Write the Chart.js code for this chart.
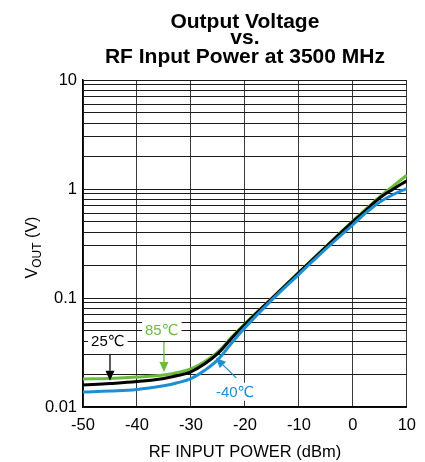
<!DOCTYPE html>
<html>
<head>
<meta charset="utf-8">
<script src="https://cdn.jsdelivr.net/npm/chart.js@4/dist/chart.umd.min.js"></script>
<style>
  html, body { margin: 0; padding: 0; background: #fff; }
  #wrap { width: 425px; height: 462px; }
</style>
</head>
<body>
<div id="wrap"><canvas id="c" width="425" height="462"></canvas></div>
<script>
// RF input power sweep (dBm) and detector output voltage (V) per temperature
const powerDbm     = [-50, -45, -40, -35, -32.5, -30, -27.5, -25, -22.5, -20, -15, -10, -5, 0, 2.5, 5, 7.5, 10];
const vout25C      = [0.0159, 0.0164, 0.0171, 0.0183, 0.0194, 0.0210, 0.0248, 0.0310, 0.0425, 0.0571, 0.099, 0.171, 0.293, 0.501, 0.645, 0.83, 1.00, 1.19];
const vout85C      = [0.0181, 0.0183, 0.0188, 0.0197, 0.0207, 0.0224, 0.0260, 0.0320, 0.0435, 0.0580, 0.100, 0.172, 0.297, 0.510, 0.660, 0.85, 1.07, 1.34];
const voutMinus40C = [0.0137, 0.0140, 0.0145, 0.0157, 0.0167, 0.0182, 0.0216, 0.0272, 0.0385, 0.0535, 0.096, 0.165, 0.282, 0.470, 0.610, 0.76, 0.89, 1.01];

const xTickValues   = [-50, -40, -30, -20, -10, 0, 10];
const yDecadeValues = [0.01, 0.1, 1, 10];
const titleLines    = ['Output Voltage', 'vs.', 'RF Input Power at 3500 MHz'];
const seriesNames   = ['-40\u2103', '25\u2103', '85\u2103'];

const FONT = '"Liberation Sans", Arial, "DejaVu Sans", sans-serif';
const GREEN = '#6cbb3c';
const BLUE = '#1b8fd2';
const BLACK = '#000000';

// grid lines at 1..9 of every decade
const yGridValues = [];
for (let i = 0; i < yDecadeValues.length - 1; i++) {
  for (let k = 1; k <= 9; k++) yGridValues.push(+(yDecadeValues[i] * k).toPrecision(3));
}
yGridValues.push(yDecadeValues[yDecadeValues.length - 1]);

const toPoints = ys => powerDbm.map((x, i) => ({ x, y: ys[i] }));

// callout labels: text position, arrow tail and arrow tip in data units
const callouts = [
  { text: seriesNames[1], color: BLACK, at: { x: -45.4, y: 0.0405 }, from: { x: -45, y: 0.0300 }, to: { x: -45, y: 0.0174 } },
  { text: seriesNames[2], color: GREEN, at: { x: -35.4, y: 0.0505 }, from: { x: -35, y: 0.0395 }, to: { x: -35, y: 0.0210 } },
  { text: seriesNames[0], color: BLUE,  at: { x: -21.8, y: 0.0138 }, from: { x: -21.6, y: 0.0185 }, to: { x: -25.4, y: 0.0282 } }
];

const overlay = {
  id: 'overlay',
  afterDatasetsDraw(chart) {
    const { ctx, scales } = chart;
    const xs = scales.x, ys = scales.y;
    ctx.save();
    ctx.font = '15px ' + FONT;
    ctx.textAlign = 'center';
    ctx.textBaseline = 'middle';
    callouts.forEach(c => {
      const tx = xs.getPixelForValue(c.at.x), ty = ys.getPixelForValue(c.at.y);
      const w = ctx.measureText(c.text).width;
      ctx.fillStyle = '#fff';
      ctx.fillRect(tx - w / 2 - 3, ty - 9, w + 6, 18);
      ctx.fillStyle = c.color;
      ctx.fillText(c.text, tx, ty + 1);
      const x0 = xs.getPixelForValue(c.from.x), y0 = ys.getPixelForValue(c.from.y);
      const x1 = xs.getPixelForValue(c.to.x), y1 = ys.getPixelForValue(c.to.y);
      const ang = Math.atan2(y1 - y0, x1 - x0);
      const hl = 10, hw = 4.5;
      const bx = x1 - hl * Math.cos(ang), by = y1 - hl * Math.sin(ang);
      ctx.strokeStyle = c.color;
      ctx.lineWidth = 1.3;
      ctx.beginPath(); ctx.moveTo(x0, y0); ctx.lineTo(bx, by); ctx.stroke();
      ctx.beginPath();
      ctx.moveTo(x1, y1);
      ctx.lineTo(bx + hw * Math.sin(ang), by - hw * Math.cos(ang));
      ctx.lineTo(bx - hw * Math.sin(ang), by + hw * Math.cos(ang));
      ctx.closePath();
      ctx.fillStyle = c.color;
      ctx.fill();
    });
    ctx.restore();
  },
  afterDraw(chart) {
    const { ctx, chartArea } = chart;
    const cx = (chartArea.left + chartArea.right) / 2;
    ctx.save();
    ctx.fillStyle = '#000';
    ctx.textAlign = 'center';
    ctx.textBaseline = 'alphabetic';
    ctx.font = 'bold 21px ' + FONT;
    [28, 44, 63].forEach((y, i) => ctx.fillText(titleLines[i], cx, y));
    // x axis title
    ctx.textBaseline = 'middle';
    ctx.font = '16.5px ' + FONT;
    ctx.fillText('RF INPUT POWER (dBm)', cx, 452);
    // y axis title with subscript
    const cy = (chartArea.top + chartArea.bottom) / 2 + 4;
    ctx.translate(32, cy);
    ctx.rotate(-Math.PI / 2);
    ctx.textAlign = 'left';
    ctx.textBaseline = 'alphabetic';
    const big = '16px ' + FONT, small = '12px ' + FONT;
    ctx.font = big; const wV = ctx.measureText('V').width;
    ctx.font = small; const wO = ctx.measureText('OUT').width;
    ctx.font = big; const wR = ctx.measureText(' (V)').width;
    let x = -(wV + wO + wR) / 2;
    ctx.font = big; ctx.fillText('V', x, 5); x += wV;
    ctx.font = small; ctx.fillText('OUT', x, 8.5); x += wO;
    ctx.font = big; ctx.fillText(' (V)', x, 5);
    ctx.restore();
  }
};

new Chart(document.getElementById('c'), {
  type: 'line',
  data: {
    datasets: [
      { label: seriesNames[0], data: toPoints(voutMinus40C), borderColor: BLUE },
      { label: seriesNames[1], data: toPoints(vout25C), borderColor: BLACK },
      { label: seriesNames[2], data: toPoints(vout85C), borderColor: GREEN }
    ].map(d => Object.assign(d, { borderWidth: 3, pointRadius: 0, fill: false, tension: 0.4 }))
  },
  options: {
    responsive: false,
    animation: false,
    layout: { padding: { top: 80, right: 14, left: 0, bottom: 0 } },
    plugins: { legend: { display: false }, tooltip: { enabled: false }, title: { display: false } },
    scales: {
      x: {
        type: 'linear', min: -50, max: 10,
        afterBuildTicks: s => { s.ticks = xTickValues.map(v => ({ value: v })); },
        afterFit: s => { s.height = 55; },
        ticks: { color: '#000', font: { family: FONT, size: 16.5 }, padding: 9, maxRotation: 0, autoSkip: false },
        grid: { color: '#3a3a3a', lineWidth: 1, drawTicks: false },
        border: { color: '#000', width: 1.5 }
      },
      y: {
        type: 'logarithmic', min: 0.01, max: 10,
        afterBuildTicks: s => { s.ticks = yGridValues.map(v => ({ value: v })); },
        afterFit: s => { s.width = 83; },
        ticks: {
          color: '#000', font: { family: FONT, size: 16.5 }, padding: 6, autoSkip: false,
          callback: v => yDecadeValues.includes(v) ? String(v) : ''
        },
        grid: { color: '#1a1a1a', lineWidth: 1, drawTicks: false },
        border: { color: '#000', width: 1.5 }
      }
    }
  },
  plugins: [overlay]
});
</script>
</body>
</html>
